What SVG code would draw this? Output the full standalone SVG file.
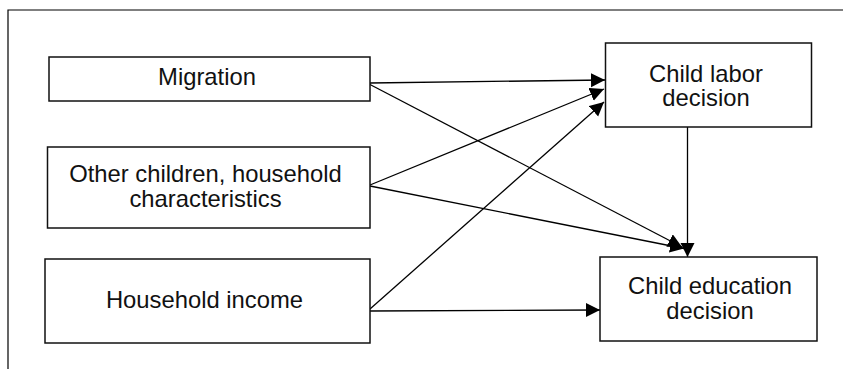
<svg xmlns="http://www.w3.org/2000/svg" width="843" height="369" viewBox="0 0 843 369">
<style>
.box{fill:#fff;stroke:#111;stroke-width:1.5}
.lbl{font-family:"Liberation Sans",Arial,sans-serif;font-size:23.8px;fill:#111;text-anchor:middle}
.edge{stroke:#000;stroke-width:1.3;fill:none;marker-end:url(#ah)}
.frame{stroke:#000;stroke-width:1.2;fill:none}
</style>
<defs>
<marker id="ah" markerUnits="userSpaceOnUse" markerWidth="15" markerHeight="15" refX="14" refY="7" orient="auto">
<path d="M0,0 L14,7 L0,14 z" fill="#000"/>
</marker>
</defs>
<rect width="843" height="369" fill="#fff"/>
<g id="frame">
<path class="frame" d="M8,369 L8,10 L843,10"/>
</g>
<g id="connectors">
<line class="edge" x1="370" y1="83" x2="605" y2="80"/>
<line class="edge" x1="370" y1="84.5" x2="682" y2="247"/>
<line class="edge" x1="370" y1="185" x2="604" y2="89"/>
<line class="edge" x1="370" y1="186" x2="684" y2="248.5"/>
<line class="edge" x1="370" y1="309" x2="604" y2="102"/>
<line class="edge" x1="370" y1="311" x2="600" y2="310"/>
<line class="edge" x1="687.5" y1="127" x2="687.5" y2="257"/>
</g>
<g id="migration">
<rect class="box" x="49" y="57" width="321" height="44"/>
<text class="lbl" x="207" y="85">Migration</text>
</g>
<g id="other-children">
<rect class="box" x="47.5" y="147" width="322.5" height="81"/>
<text class="lbl" x="205.5" y="182">Other children, household</text>
<text class="lbl" x="205.5" y="207">characteristics</text>
</g>
<g id="household-income">
<rect class="box" x="45" y="259" width="325" height="84"/>
<text class="lbl" x="204.5" y="308">Household income</text>
</g>
<g id="child-labor">
<rect class="box" x="605.5" y="43" width="206" height="84"/>
<text class="lbl" x="706" y="81.5">Child labor</text>
<text class="lbl" x="706" y="106">decision</text>
</g>
<g id="child-education">
<rect class="box" x="600" y="257" width="217" height="84"/>
<text class="lbl" x="710" y="293.5">Child education</text>
<text class="lbl" x="710" y="318.5">decision</text>
</g>
</svg>
